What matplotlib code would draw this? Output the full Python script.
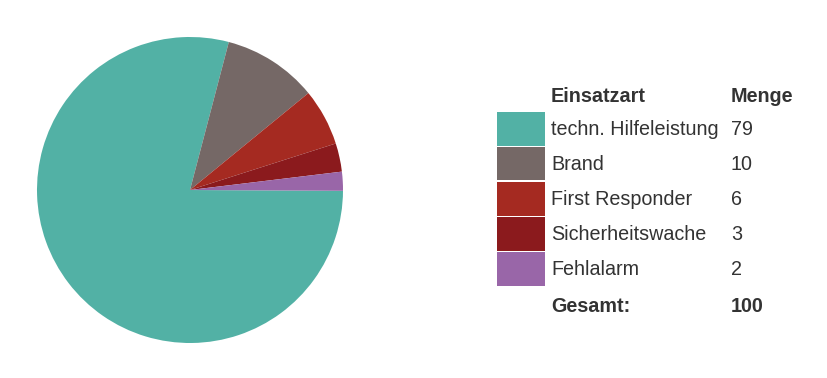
import matplotlib.pyplot as plt
from matplotlib.patches import Rectangle

# data
categories = ["techn. Hilfeleistung", "Brand", "First Responder", "Sicherheitswache", "Fehlalarm"]
counts = [79, 10, 6, 3, 2]
colors = ["#52B1A5", "#756866", "#A52A21", "#8B1A1D", "#9966A8"]
header = ["Einsatzart", "Menge"]
total_label = "Gesamt:"

W, H = 828, 378
plt.rcParams['font.family'] = ['Liberation Sans', 'DejaVu Sans']
fig = plt.figure(figsize=(W / 100, H / 100), dpi=100)

# pie, centre (190,190) px, radius 153 px
cx, cy, r = 190, 190, 153
ax = fig.add_axes([(cx - r) / W, 1 - (cy + r) / H, 2 * r / W, 2 * r / H])
ax.pie(counts, colors=colors, startangle=-0.3, counterclock=False,
       wedgeprops=dict(linewidth=0))
ax.set_xlim(-1, 1)
ax.set_ylim(-1, 1)
ax.set_aspect('equal')
ax.axis('off')

def fx(px):
    return px / W

def fy(py):
    return 1 - py / H

txt = "#333333"
fs = 14.2
col1, col2 = 551, 731
fig.text(fx(col1), fy(96), header[0], fontsize=fs, fontweight='bold', color=txt, va='center')
fig.text(fx(col2), fy(96), header[1], fontsize=fs, fontweight='bold', color=txt, va='center')

row_top = 112
row_h = 35
for i, (name, val, c) in enumerate(zip(categories, counts, colors)):
    top = row_top + i * row_h
    fig.patches.append(Rectangle((fx(497), fy(top + row_h - 1.5)), 48 / W, (row_h - 1.5) / H,
                                 transform=fig.transFigure, facecolor=c, edgecolor='none'))
    yc = top + row_h / 2
    fig.text(fx(col1), fy(yc), name, fontsize=fs, color=txt, va='center')
    fig.text(fx(col2), fy(yc), str(val), fontsize=fs, color=txt, va='center')

fig.text(fx(col1), fy(306), total_label, fontsize=fs, fontweight='bold', color=txt, va='center')
fig.text(fx(col2), fy(306), str(sum(counts)), fontsize=fs, fontweight='bold', color=txt, va='center')

fig.savefig("out.png", dpi=100)
